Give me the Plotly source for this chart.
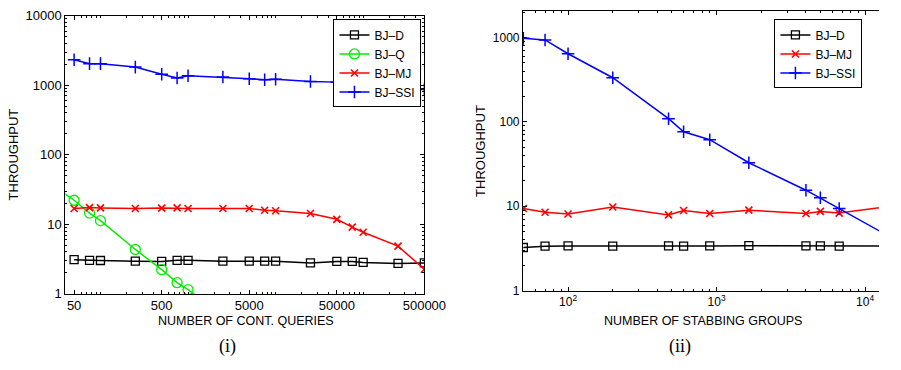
import plotly.graph_objects as go

# ---------------- data: chart (i) ----------------
x_queries = [50, 75, 100, 250, 500, 750, 1000, 2500, 5000, 7500, 10000,
             25000, 50000, 75000, 100000, 250000, 500000]
bjd_i = [3.1, 3.04, 3.02, 2.95, 2.93, 3.04, 3.04, 2.95, 2.95, 2.95, 2.95,
         2.79, 2.93, 2.93, 2.83, 2.74, 2.79]
bjmj_i = [16.9, 17.4, 17.2, 16.9, 17.1, 17.2, 16.9, 16.9, 16.9, 15.9, 15.7,
          14.3, 11.8, 9.1, 7.7, 4.85, 2.26]
bjssi_i = [2320, 2040, 2040, 1820, 1440, 1270, 1365, 1310, 1240, 1200, 1217,
           1130, 1107, 1016, 1047, 1070, 867]
x_queries_q = [25, 50, 75, 100, 250, 500, 750, 1000, 2500]
bjq_i = [41, 22.2, 14.5, 11.3, 4.35, 2.23, 1.45, 1.15, 0.49]

xtick_i = [50, 500, 5000, 50000, 500000]
xtick_i_text = ["50", "500", "5000", "50000", "500000"]
ytick_i = [1, 10, 100, 1000, 10000]
ytick_i_text = ["1", "10", "100", "1000", "10000"]

# ---------------- data: chart (ii) ----------------
x_groups = [50, 70, 100, 200, 475, 600, 900, 1650, 4000, 5000, 6700, 16000]
bjd_ii = [3.25, 3.37, 3.39, 3.37, 3.39, 3.37, 3.39, 3.42, 3.39, 3.39, 3.37, 3.39]
bjmj_ii = [9.4, 8.5, 8.1, 9.8, 7.9, 8.9, 8.2, 9.0, 8.2, 8.7, 8.3, 10.2]
bjssi_ii = [975, 934, 641, 333, 109, 76.4, 61.5, 32.8, 15.5, 12.6, 9.4, 4.0]

xtick_ii = [100, 1000, 10000]
xtick_ii_text = ["10<sup>2</sup>", "10<sup>3</sup>", "10<sup>4</sup>"]
ytick_ii = [1, 10, 100, 1000]
ytick_ii_text = ["1", "10", "100", "1000"]

series_names = ["BJ–D", "BJ–Q", "BJ–MJ", "BJ–SSI"]

# ---------------- figure ----------------
W, H = 901, 370
FONT = "Liberation Sans, Arial, Helvetica, sans-serif"
BLACK, GREEN, RED, BLUE = "#000000", "#00ee00", "#ff0000", "#0000ff"


def minor_vals(lo_exp, hi_exp):
    out = []
    for e in range(lo_exp, hi_exp + 1):
        for m in range(1, 10):
            out.append(m * 10 ** e)
    return out


fig = go.Figure()

def add(x, y, name, color, symbol, size, xa, ya, legend, mwidth=1.3):
    fig.add_trace(go.Scatter(
        x=x, y=y, name=name, mode="lines+markers",
        line=dict(color=color, width=1.5),
        marker=dict(symbol=symbol, size=size, color=color,
                    line=dict(color=color, width=mwidth)),
        xaxis=xa, yaxis=ya, legend=legend))

add(x_queries, bjd_i, series_names[0], BLACK, "square-open", 8, "x", "y", "legend")
add(x_queries_q, bjq_i, series_names[1], GREEN, "circle-open", 10, "x", "y", "legend")
add(x_queries, bjmj_i, series_names[2], RED, "x-thin-open", 7, "x", "y", "legend", 1.6)
add(x_queries, bjssi_i, series_names[3], BLUE, "cross-thin-open", 9, "x", "y", "legend", 1.5)

add(x_groups, bjd_ii, series_names[0], BLACK, "square-open", 8, "x2", "y2", "legend2")
add(x_groups, bjmj_ii, series_names[2], RED, "x-thin-open", 7, "x2", "y2", "legend2", 1.6)
add(x_groups, bjssi_ii, series_names[3], BLUE, "cross-thin-open", 9, "x2", "y2", "legend2", 1.5)

axis_common = dict(type="log", showgrid=False, zeroline=False, showline=True,
                   linecolor="black", linewidth=1, ticks="inside", ticklen=4,
                   tickcolor="black", tickwidth=1)

fig.update_layout(
    width=W, height=H, margin=dict(l=0, r=0, t=0, b=0),
    paper_bgcolor="white", plot_bgcolor="white",
    font=dict(family=FONT, size=13, color="black"),
    xaxis=dict(axis_common, domain=[67 / W, 435 / W], range=[1.599, 5.699],
               anchor="y", mirror="allticks", tickmode="array",
               tickvals=xtick_i, ticktext=xtick_i_text, ticklabelstandoff=0,
               minor=dict(tickmode="array", tickvals=minor_vals(1, 5), ticks="inside",
                          ticklen=2, tickcolor="black", showgrid=False),
               tickfont=dict(size=13)),
    yaxis=dict(axis_common, domain=[(H - 299) / H, (H - 9) / H], range=[0, 4],
               anchor="x", mirror="allticks", tickmode="array",
               tickvals=ytick_i, ticktext=ytick_i_text,
               minor=dict(tickmode="array", tickvals=minor_vals(0, 3), ticks="inside",
                          ticklen=2, tickcolor="black", showgrid=False),
               tickfont=dict(size=13)),
    xaxis2=dict(axis_common, domain=[536 / W, 1.0], range=[1.696, 4.094],
                anchor="y2", mirror="allticks", tickmode="array",
                tickvals=xtick_ii, ticktext=xtick_ii_text, ticklabelstandoff=0,
                minor=dict(tickmode="array", tickvals=minor_vals(1, 4), ticks="inside",
                           ticklen=2, tickcolor="black", showgrid=False),
                tickfont=dict(size=12)),
    yaxis2=dict(axis_common, domain=[(H - 295.7) / H, (H - 4) / H], range=[0, 3.315],
                anchor="x2", mirror=False, tickmode="array",
                tickvals=ytick_ii, ticktext=ytick_ii_text,
                minor=dict(tickmode="array", tickvals=minor_vals(0, 3), ticks="inside",
                           ticklen=2, tickcolor="black", showgrid=False),
                tickfont=dict(size=12)),
    legend=dict(x=432 / W, y=(H - 13) / H, xanchor="right", yanchor="top",
                bgcolor="white", bordercolor="black", borderwidth=1,
                font=dict(size=12), itemwidth=30, tracegroupgap=0),
    legend2=dict(x=884 / W, y=(H - 13) / H, xanchor="right", yanchor="top",
                 bgcolor="white", bordercolor="black", borderwidth=1,
                 font=dict(size=12), itemwidth=30, tracegroupgap=0),
    showlegend=True,
)

annots = [
    dict(text="THROUGHPUT", x=14 / W, y=(H - 154) / H, textangle=-90, font=dict(size=13)),
    dict(text="THROUGHPUT", x=493 / W, y=(H - 150) / H, textangle=-90, font=dict(size=13)),
    dict(text="NUMBER OF CONT. QUERIES", x=252 / W, y=(H - 327) / H, font=dict(size=12.5)),
    dict(text="NUMBER OF STABBING GROUPS", x=721 / W, y=(H - 327) / H, font=dict(size=12.5)),
    dict(text="(i)", x=233 / W, y=(H - 354) / H,
         font=dict(size=18, family="Liberation Serif, Times New Roman, serif")),
    dict(text="(ii)", x=697 / W, y=(H - 354) / H,
         font=dict(size=18, family="Liberation Serif, Times New Roman, serif")),
]
for a in annots:
    fig.add_annotation(xref="paper", yref="paper", xanchor="center", yanchor="middle",
                       showarrow=False, **a)

fig.write_html("out.html")
